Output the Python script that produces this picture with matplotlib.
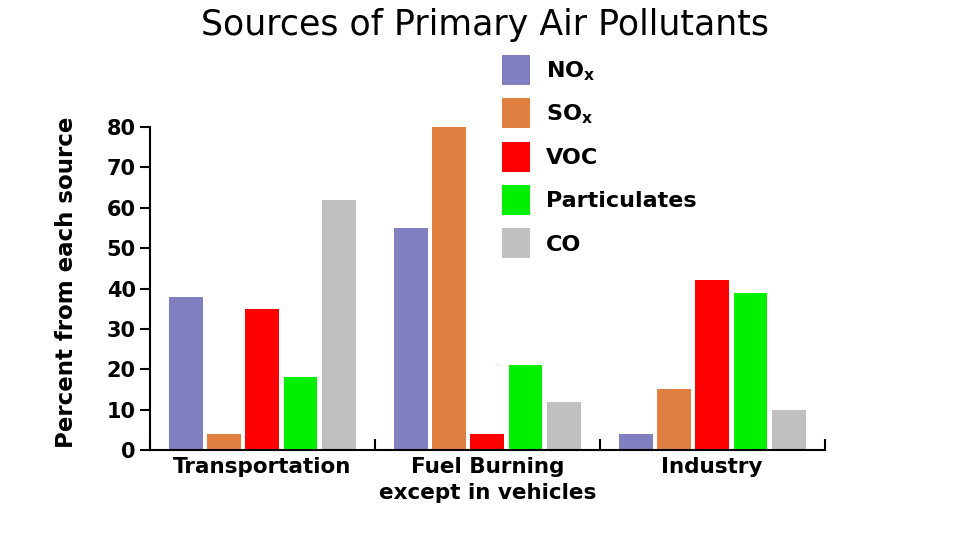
import numpy as np
import matplotlib.pyplot as plt

categories = ["Transportation", "Fuel Burning\nexcept in vehicles", "Industry"]
pollutants = ["NO$_\\mathbf{x}$", "SO$_\\mathbf{x}$", "VOC", "Particulates", "CO"]
colors = ["#8080c0", "#e08040", "#ff0000", "#00f000", "#c0c0c0"]

nox = [38, 55, 4]
sox = [4, 80, 15]
voc = [35, 4, 42]
particulates = [18, 21, 39]
co = [62, 12, 10]
series = [nox, sox, voc, particulates, co]

plt.rcParams["font.weight"] = "bold"
plt.rcParams["axes.labelweight"] = "bold"
plt.rcParams["mathtext.default"] = "bf"

fig = plt.figure(figsize=(9.6, 5.4), dpi=100)
ax = fig.add_axes([0.156, 0.1667, 0.703, 0.598])

x = np.arange(len(categories))
pitch = 0.17
width = 0.15
for i, vals in enumerate(series):
    ax.bar(x + (i - 2) * pitch, vals, width, color=colors[i], label=pollutants[i], clip_on=False)

ax.set_xlim(-0.5, 2.5)
ax.set_ylim(0, 80)
ax.set_yticks(range(0, 81, 10))
ax.set_xticks(x)
ax.set_xticklabels(categories, fontsize=15.5, linespacing=1.4)
ax.set_xticks([-0.5, 0.5, 1.5, 2.5], minor=True)
ax.tick_params(axis="x", which="major", length=0, pad=5)
ax.tick_params(axis="x", which="minor", direction="in", length=8, width=1.5)
ax.tick_params(axis="y", direction="out", length=7, width=1.5, labelsize=15, pad=3)
ax.set_ylabel("Percent from each source", fontsize=16.5)
ax.yaxis.set_label_coords(-0.106, 0.52)

for side in ["top", "right"]:
    ax.spines[side].set_visible(False)
for side in ["left", "bottom"]:
    ax.spines[side].set_linewidth(1.5)

fig.suptitle("Sources of Primary Air Pollutants", fontsize=25, fontweight="normal", x=0.505, y=0.985)

fig.legend(loc="upper left", bbox_to_anchor=(0.523, 0.898), frameon=False,
           fontsize=16, handlelength=1.26, handleheight=1.70,
           labelspacing=0.6, handletextpad=0.72, borderpad=0, borderaxespad=0)

plt.savefig("out.png", dpi=100)
